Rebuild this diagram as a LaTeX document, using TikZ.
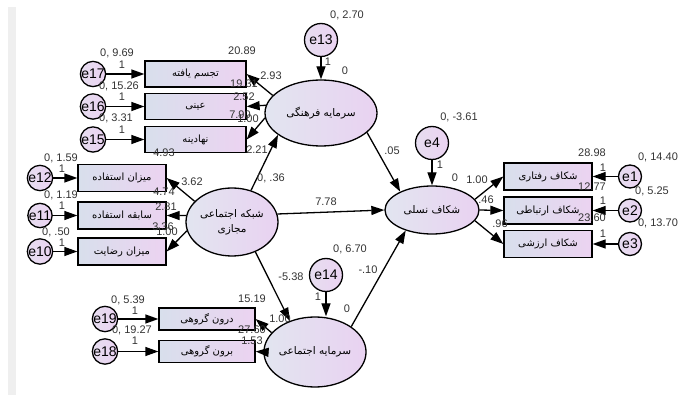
\documentclass[tikz,border=0pt]{standalone}
\usepackage{fontspec}
\setmainfont{Liberation Sans}
\newfontfamily\fa[Script=Arabic]{DejaVu Sans}
\TeXXeTstate=1
\usepackage{xcolor}
\usetikzlibrary{shapes,positioning,calc,arrows.meta}

\definecolor{boxL}{HTML}{D8DFEC}
\definecolor{boxR}{HTML}{ECD3F1}
\definecolor{latL}{HTML}{E2E5F0}
\definecolor{latR}{HTML}{E9D2F1}
\definecolor{errL}{HTML}{E6DDF0}
\definecolor{errR}{HTML}{EBD3F1}
\definecolor{lblC}{HTML}{333333}
\definecolor{strip}{HTML}{EFEFEF}

\newcommand{\fatxt}[1]{{\fa\beginR #1\endR}}

\begin{document}
\begin{tikzpicture}[x=1pt,y=-1pt,
    obs/.style={draw, line width=1.3pt, inner sep=0pt, left color=boxL, right color=boxR, font=\fontsize{10}{12}\fa},
    lat/.style={ellipse, draw, line width=1.3pt, inner sep=0pt, left color=latL, right color=latR, font=\fontsize{10.5}{15}\fa, align=center},
    err/.style={circle, draw, line width=1.3pt, inner sep=0pt, minimum size=23pt, left color=errL, right color=errR, font=\fontsize{14}{14}\selectfont},
    errbig/.style={err, minimum size=33pt},
    arr/.style={-{Triangle[length=13pt,width=9pt]}, line width=1.3pt},
    lbl/.style={font=\fontsize{11}{13}\selectfont, text=lblC, inner sep=0pt}]
    \useasboundingbox (0,0) rectangle (678,395);
    \fill[strip] (8,7) rectangle (16,395);

    % Latent variables
    \node[lat, minimum width=112pt, minimum height=66pt] (farhangi) at (321,113) {\fatxt{سرمایه فرهنگی}};
    \node[lat, minimum width=92pt, minimum height=68pt] (shabake) at (232,222) {\fatxt{شبکه اجتماعی}\\ \fatxt{مجازی}};
    \node[lat, minimum width=94pt, minimum height=48pt] (nasli) at (432,210) {\fatxt{شکاف نسلی}};
    \node[lat, minimum width=84pt, minimum height=70pt] (ejtemaei) at (315,352) {\fatxt{سرمایه اجتماعی}};

    % Indicators
    \foreach \n/\y/\t in {taj/74/تجسم یافته, eyni/106.5/عینی, nahad/139.5/نهادینه}
        \node[obs, minimum width=101pt, minimum height=26pt] (\n) at (195.5,\y) {\fatxt{\t}};
    \foreach \n/\y/\t in {estefade/178/میزان استفاده, sabeghe/215.5/سابقه استفاده, rezayat/251.5/میزان رضایت}
        \node[obs, minimum width=88pt, minimum height=27pt] (\n) at (122,\y) {\fatxt{\t}};
    \foreach \n/\y/\t in {darun/319/درون گروهی, birun/351.5/برون گروهی}
        \node[obs, minimum width=96pt, minimum height=22pt] (\n) at (207,\y) {\fatxt{\t}};
    \foreach \n/\y/\t in {raftari/176.5/شکاف رفتاری, ertebati/210.5/شکاف ارتباطی, arzeshi/244/شکاف ارزشی}
        \node[obs, minimum width=88pt, minimum height=27pt] (\n) at (548,\y) {\fatxt{\t}};

    % Error terms
    \foreach \e/\x/\y/\n in {e17/93/74/taj, e16/93/106.5/eyni, e15/93/139.5/nahad,
                            e12/40/178/estefade, e11/40/215.5/sabeghe, e10/40/251.5/rezayat,
                            e19/105/319/darun, e18/105/351.5/birun,
                            e1/630/176.5/raftari, e2/630/210.5/ertebati, e3/630/244/arzeshi} {
        \node[err] (\e) at (\x,\y) {\e};
        \draw[arr] (\e) -- (\n);
    }
    \node[errbig] (e13) at (321,40) {e13};
    \node[errbig] (e4) at (432,143) {e4};
    \node[errbig] (e14) at (326,275) {e14};
    \draw[arr] (e13) -- (farhangi);
    \draw[arr] (e4) -- (nasli);
    \draw[arr] (e14.south) -- (e14.south |- ejtemaei.north);

    % Loadings
    \draw[arr] (farhangi.160) -- (taj.east);
    \draw[arr] (farhangi.172) -- (eyni.east);
    \draw[arr] (farhangi.185) -- (nahad.east);
    \draw[arr] (shabake.151) -- (estefade.east);
    \draw[arr] (shabake.172) -- (sabeghe.east);
    \draw[arr] (shabake.191) -- (rezayat.east);
    \draw[arr] (ejtemaei.156) -- (darun.east);
    \draw[arr] (ejtemaei.180) -- (birun.east);
    \draw[arr] (nasli.14) -- (raftari.west);
    \draw[arr] (nasli.0) -- (ertebati.west);
    \draw[arr] (nasli.-14) -- (arzeshi.west);

    % Structural paths
    \draw[arr] (shabake.59) -- (farhangi.207);
    \draw[arr] (shabake.-52) -- (ejtemaei.129);
    \draw[arr] (shabake.10) -- (nasli.180);
    \draw[arr] (farhangi.-23) -- (nasli.150);
    \draw[arr] (ejtemaei.35) -- (nasli.218);

    % Estimates
    \foreach \x/\y/\t [count=\i] in {347/15/{0, 2.70}, 328/62/1, 345/71/0,
            117/53/{0, 9.69}, 122/65/1, 119/86/{0, 15.26}, 122/97/1, 116/118/{0, 3.31}, 122/130/1,
            242/51/20.89, 271/76/2.93, 244/84/19.31, 244/97/2.52, 240/115/7.90, 248/119/1.00,
            164/153/4.93, 257/150/2.21,
            61/158/{0, 1.59}, 62/169/1, 61/195/{0, 1.19}, 62/206/1, 56/232/{0, .50}, 62/243/1,
            192/182/3.62, 164/192/4.74, 166/207/2.81, 163/227/3.36, 167/232/1.00,
            271/178/{0, .36}, 326/202/7.78,
            392/151/.05, 459/117/{0, -3.61}, 440/165/1, 455/178/0,
            477/180/1.00, 486/200/.46, 500/224/.96,
            592/153/28.98, 592/187/12.77, 592/218/23.60,
            603/168/1, 603/201/1, 603/234/1,
            658/157/{0, 14.40}, 652/191/{0, 5.25}, 658/223/{0, 13.70},
            350/249/{0, 6.70}, 291/277/-5.38, 318/297/1, 368/270/-.10, 347/309/0,
            128/300/{0, 5.39}, 135/311/1, 132/330/{0, 19.27}, 135/341/1,
            252/299/15.19, 280/319/1.00, 252/330/27.60, 252/341/1.53}
        \node[lbl] (est\i) at (\x,\y) {\t};
\end{tikzpicture}
\end{document}
